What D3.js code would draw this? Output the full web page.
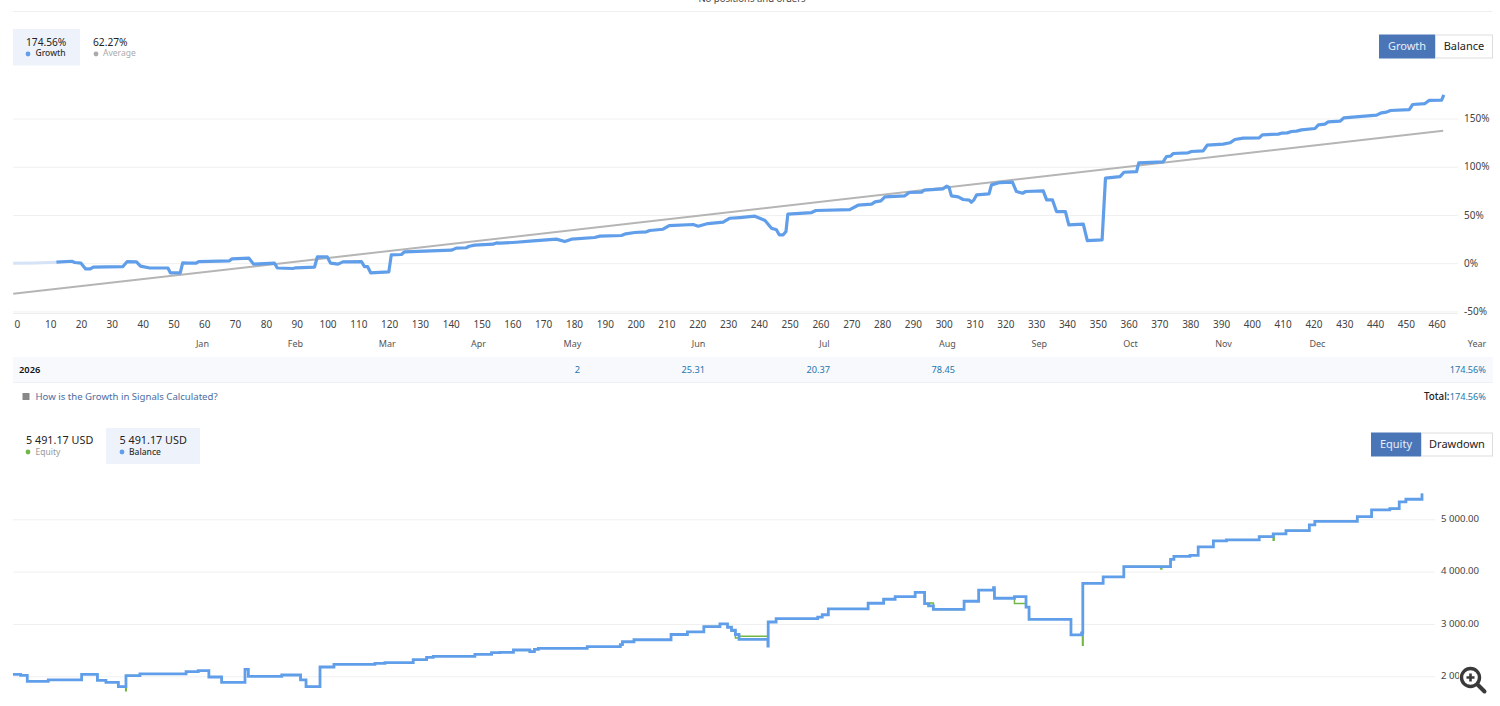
<!DOCTYPE html>
<html><head><meta charset="utf-8">
<script src="https://cdn.jsdelivr.net/npm/d3@7"></script>
<style>
html,body{margin:0;padding:0;background:#fff;overflow:hidden}
svg{display:block}
text{font-family:"Noto Sans","DejaVu Sans",sans-serif}
.domain{display:none}
</style></head><body><svg id="c" width="1500" height="706"></svg>
<script>
const growthTicksX=d3.range(0,461,10);
const growthTicksY=[-50,0,50,100,150];
const balanceTicksY=[2000,3000,4000,5000];
const monthLabels=["Jan","Feb","Mar","Apr","May","Jun","Jul","Aug","Sep","Oct","Nov","Dec"];
const monthPositions=[59.4,89.6,119.4,149,179.5,220.4,261.3,301.2,331,360.6,390.8,421.3];
const yearRow=[["2",580],["25.31",705],["20.37",830],["78.45",955],["174.56%",1486]];
const averageLine=[[-2,-31.8],[462.1,137.2]];
const growthFaded=[[-2,0],[5,0.3],[12,1]];
const growth=[[12,1],[17,2],[18,0.7],[20,0],[21.5,-6],[23,-6],[24,-4],[33.6,-3.5],[35,1.7],[38,1.4],[39.3,-3],[42.3,-5],[48.2,-5],[49,-10],[52.2,-10],[53,0.3],[54.7,0],[57.4,0],[58.2,1.7],[68.2,2.4],[69,4.5],[74.5,5.2],[76,-1],[82.8,0],[83.7,-5],[88.8,-5.5],[89.7,-4.8],[95.8,-4],[96.7,6.6],[99.9,6.6],[101,0],[103.4,-1],[105,1.4],[111,1.7],[112,-3.5],[113,-3.5],[114,-10],[119.9,-9],[120.7,8.6],[124,9],[125,11.8],[140.2,13.5],[141.8,15.6],[145,16],[146,17.6],[147.8,18.7],[153.7,19.7],[154.8,21],[156,20.7],[161.3,21.7],[166.7,23.1],[174.3,24.9],[177,22.4],[179.2,24.9],[186.7,26.6],[188.4,28],[195.4,28.7],[196.8,30.4],[199.7,31.8],[203.5,32.5],[204.6,33.9],[208.9,35.2],[210.9,39],[218.7,40.1],[220.3,38.3],[223.5,41.1],[228.4,42.5],[230.6,46.6],[233.8,47.3],[238.7,48.7],[242,44.2],[244.1,36.3],[245.7,34.6],[246.6,29.4],[247.9,29.4],[248.8,32.8],[249.4,50.8],[257.1,52.5],[258.5,54.6],[269.5,55.6],[272.2,60.1],[276.6,61.2],[277.7,63.6],[279.6,64.6],[280.9,68.8],[287.4,69.8],[288.8,73.3],[292.8,73.6],[293.6,75.7],[299.8,77.1],[300.9,79.8],[301.7,78.8],[302.5,69.8],[304.7,68.8],[306.3,66],[308.3,65.3],[309,63.2],[309.8,65.7],[310.7,70.9],[314.7,71.9],[315.5,81.2],[318.2,83.6],[322.3,84],[323.6,74.3],[325.6,72.5],[326.6,74.3],[332.3,75],[333.4,65.6],[335.3,65.6],[336.6,53.5],[339.5,53.5],[340.6,39.7],[345.3,40.4],[346.6,23.4],[351.4,24.1],[352.5,88.1],[357.2,89.8],[358.5,94.3],[362.6,95],[363.3,104],[371.2,105],[372.3,110.6],[373.6,110.9],[374.5,113.7],[379.3,114.4],[380.4,115.8],[384.2,116.5],[385.5,122.3],[390.7,123.4],[392.9,124.8],[394.5,128.2],[397.2,129.6],[402.4,130],[403.4,133.1],[408.6,133.8],[409.6,134.8],[411.5,135.1],[412.9,136.5],[414.5,136.9],[416.1,138.2],[420.5,139.6],[421.6,143.4],[423.7,144.1],[424.8,146.5],[428.6,147.2],[429.9,150.7],[440.5,153.5],[442.1,155.9],[443.7,156.6],[445,158.3],[451.1,159.3],[452.2,164.5],[456.2,165.5],[457.5,168.7],[461.6,169],[462.3,174.56]];
const balance=[[-2,2038],[0.5,2019],[2.7,1904],[9.6,1930],[20.6,2038],[25.8,1924],[28.6,1885],[32.7,1803],[35.2,2013],[39.8,2045],[55,2089],[59,2108],[62.5,1987],[66.7,1885],[74.4,2134],[75.5,2000],[86.5,2025],[92.7,1930],[94.5,1803],[99.1,2178],[103.7,2229],[117.2,2248],[120.5,2261],[129.8,2318],[134.2,2363],[136.4,2382],[150.1,2420],[155.6,2452],[158.4,2459],[162.8,2503],[168.2,2472],[169.7,2516],[171,2535],[187.1,2566],[198,2604],[198.7,2660],[202.5,2698],[214.7,2799],[220.1,2849],[225.5,2950],[230.8,3000],[233.3,2937],[234.6,2880],[235.9,2799],[237.1,2704],[246.6,2579],[246.7,3038],[249.3,3101],[263,3132],[264.5,3176],[266.5,3289],[279.6,3396],[284.7,3472],[288.5,3522],[295.1,3604],[298.2,3390],[299.5,3346],[301.1,3277],[311.2,3434],[316,3648],[320.9,3692],[321.2,3491],[327.8,3522],[331.6,3321],[332.6,3088],[346.4,2792],[349.9,2830],[350.3,3777],[357,3898],[363.8,4096],[379.2,4236],[380.3,4293],[385.6,4312],[388.3,4472],[393.3,4586],[397.6,4605],[408.4,4669],[413,4720],[417.2,4784],[424.9,4892],[426.7,4962],[440.7,5051],[445.4,5179],[451.4,5204],[454.5,5332],[456.7,5383],[462,5491.17]];
const equity=[[-2,2038],[0.5,2019],[2.7,1904],[9.6,1930],[20.6,2038],[25.8,1924],[28.6,1885],[32.7,1803],[35.1,1726],[35.3,2013],[39.8,2045],[55,2089],[59,2108],[62.5,1987],[66.7,1885],[74.4,2134],[75.5,2000],[86.5,2025],[92.7,1930],[94.5,1803],[99.1,2178],[103.7,2229],[117.2,2248],[120.5,2261],[129.8,2318],[134.2,2363],[136.4,2382],[150.1,2420],[155.6,2452],[158.4,2459],[162.8,2503],[168.2,2472],[169.7,2516],[171,2535],[187.1,2566],[198,2604],[198.7,2660],[202.5,2698],[214.7,2799],[220.1,2849],[225.5,2950],[230.8,3000],[233.3,2937],[234.6,2860],[235.9,2730],[237.1,2767],[246.7,3038],[249.3,3101],[263,3132],[264.5,3176],[266.5,3289],[279.6,3396],[284.7,3472],[288.5,3522],[295.1,3604],[298.2,3390],[300,3400],[301.1,3277],[311.2,3434],[316,3648],[320.9,3692],[321.2,3491],[327.8,3390],[331.6,3321],[332.6,3088],[346.4,2792],[349.9,2830],[350.2,2591],[350.4,3777],[357,3898],[363.8,4096],[376,4051],[376.3,4096],[379.2,4236],[380.3,4293],[385.6,4312],[388.3,4472],[393.3,4586],[397.6,4605],[408.4,4669],[413,4600],[413.3,4720],[417.2,4784],[424.9,4892],[426.7,4962],[440.7,5051],[445.4,5179],[451.4,5204],[454.5,5332],[456.7,5383],[462,5491.17]];

const svg=d3.select("#c");
const blue="#619ee9",grey="#b5b5b5",green="#74b644",grid="#f0f0f0";
const font="'Noto Sans','DejaVu Sans',sans-serif";
function txt(x,y,s,o={}){return svg.append("text").attr("x",x).attr("y",y).attr("dy","0.35em")
  .attr("text-anchor",o.a||"start").attr("font-size",o.s||10).attr("fill",o.c||"#333").attr("font-weight",o.w||400).text(s);}
function rect(x,y,w,h,f,st){return svg.append("rect").attr("x",x).attr("y",y).attr("width",w).attr("height",h).attr("fill",f).attr("stroke",st||"none");}

// top rule + message clipped by the page edge, as in the reference
svg.append("line").attr("x1",13).attr("x2",1492).attr("y1",11.5).attr("y2",11.5).attr("stroke","#eee");
txt(752,-1.2,"No positions and orders",{a:"middle",s:9.5,c:"#444"});

// scales
const xG=d3.scaleLinear().domain([0,460]).range([19.4,1436.7]);
const yG=d3.scaleLinear().domain([-50,150]).range([311.4,118.5]);
const xB=d3.scaleLinear().domain([-2,462]).range([13,1422]);
const yB=d3.scaleLinear().domain([2000,5000]).range([676.3,519.3]);

// growth grid + y axis
svg.append("g").attr("transform","translate(1458,0)")
 .call(d3.axisRight(yG).tickValues(growthTicksY).tickSize(0).tickPadding(6).tickFormat(d=>d+"%"))
 .call(g=>{g.selectAll("text").attr("font-size",10).attr("font-family",font).attr("fill","#444");});
svg.append("g").attr("transform","translate(1458,0)")
 .call(d3.axisLeft(yG).tickValues(growthTicksY).tickSize(1445).tickFormat(""))
 .call(g=>g.selectAll("line").attr("stroke",grid));
svg.append("line").attr("x1",13).attr("x2",1458).attr("y1",313.5).attr("y2",313.5).attr("stroke","#eee");

// growth x axis
svg.append("g").attr("transform","translate(0,321)")
 .call(d3.axisBottom(xG).tickValues(growthTicksX).tickSize(0).tickPadding(0))
 .call(g=>{g.selectAll("text").attr("font-size",10).attr("font-family",font).attr("fill","#444");
   g.selectAll(".tick").filter(d=>d===0).select("text").attr("dx",-2.5);});
monthLabels.forEach((m,i)=>txt(xG(monthPositions[i]),344,m,{a:"middle",s:9,c:"#555"}));
txt(1477,344,"Year",{a:"middle",s:9,c:"#555"});

// growth lines
const lineG=d3.line().x(d=>xG(d[0])).y(d=>yG(d[1]));
svg.append("path").datum(averageLine).attr("d",lineG).attr("fill","none").attr("stroke",grey).attr("stroke-width",2);
svg.append("path").datum(growthFaded).attr("d",lineG).attr("fill","none").attr("stroke","#d6e2f6").attr("stroke-width",3);
svg.append("path").datum(growth).attr("d",lineG).attr("fill","none").attr("stroke",blue).attr("stroke-width",3.2).attr("stroke-linejoin","round");

// legend growth
rect(13,29,67,36.5,"#eef3fb");
txt(26,42.5,"174.56%",{s:10.2,c:"#222"});
svg.append("circle").attr("cx",28).attr("cy",54).attr("r",2.4).attr("fill",blue);
txt(35.5,53.5,"Growth",{s:8.5,c:"#333",w:500});
txt(93,42.5,"62.27%",{s:10.2,c:"#222"});
svg.append("circle").attr("cx",96).attr("cy",54).attr("r",2.4).attr("fill","#aaa");
txt(103,53.5,"Average",{s:8.5,c:"#aaa"});

// buttons
function btn(x,w,y,label,on){rect(x+.5,y+.5,w-1,23,on?"#4a76b8":"#fff",on?"#4a76b8":"#ddd");
 txt(x+w/2,y+12,label,{a:"middle",s:11,c:on?"#e8eef8":"#222"});}
btn(1435,58,34.5,"Balance",false);btn(1379,56,34.5,"Growth",true);
btn(1421,72,432.5,"Drawdown",false);btn(1371,50,432.5,"Equity",true);

// year table
rect(13,357,1480,25,"#f8f9fd");
svg.append("line").attr("x1",13).attr("x2",1493).attr("y1",382.5).attr("y2",382.5).attr("stroke","#eef0f5");
txt(19,369.5,"2026",{s:9.3,c:"#111",w:600});
const tableBlue="#2477ad";
yearRow.forEach(r=>txt(r[1],369.5,r[0],{a:"end",s:9.2,c:tableBlue}));
rect(22.5,393,7,7,"#888");
txt(35.5,396.5,"How is the Growth in Signals Calculated?",{s:9.6,c:"#4d6c9f"});
txt(1449.5,396.5,"Total:",{a:"end",s:9.8,c:"#222",w:500});
txt(1486,396.5,"174.56%",{a:"end",s:9.2,c:tableBlue});

// balance grid + y axis
svg.append("g").attr("transform","translate(1435,0)")
 .call(d3.axisLeft(yB).tickValues(balanceTicksY).tickSize(1422).tickFormat(""))
 .call(g=>g.selectAll("line").attr("stroke",grid));
svg.append("g").attr("transform","translate(1435,-1)")
 .call(d3.axisRight(yB).tickValues(balanceTicksY).tickSize(0).tickPadding(6)
   .tickFormat(d=>d3.format(".2f")(d).replace(/^(\d)(\d{3})/,"$1 $2")))
 .call(g=>{g.selectAll("text").attr("font-size",9.6).attr("font-family",font).attr("fill","#444");});

// balance lines
const lineB=d3.line().x(d=>xB(d[0])).y(d=>yB(d[1])).curve(d3.curveStepAfter);
svg.append("path").datum(equity).attr("d",lineB).attr("fill","none").attr("stroke",green).attr("stroke-width",1.5);
svg.append("path").datum(balance).attr("d",lineB).attr("fill","none").attr("stroke",blue).attr("stroke-width",2.8);

// legend balance
txt(26,440,"5 491.17 USD",{s:10.8,c:"#222"});
svg.append("circle").attr("cx",28).attr("cy",452).attr("r",2.4).attr("fill",green);
txt(35.5,452,"Equity",{s:8.5,c:"#999"});
rect(106,428,94,36,"#eef3fb");
txt(119.5,440,"5 491.17 USD",{s:10.8,c:"#222"});
svg.append("circle").attr("cx",122).attr("cy",452).attr("r",2.4).attr("fill",blue);
txt(129,452,"Balance",{s:8.5,c:"#333",w:500});

// zoom icon
rect(1459,664,36,28,"#fff");
const ic=svg.append("g").attr("stroke","#3a3a3a").attr("fill","none").attr("stroke-linecap","round");
ic.append("circle").attr("cx",1470.5).attr("cy",677.5).attr("r",9).attr("stroke-width",3.4).attr("fill","#fff");
ic.append("line").attr("x1",1477.5).attr("y1",684.5).attr("x2",1484.5).attr("y2",691.5).attr("stroke-width",4);
ic.append("path").attr("d","M1466.5 677.5H1474.5M1470.5 673.5V681.5").attr("stroke-width",2.6).attr("stroke-linecap","butt");
</script></body></html>
